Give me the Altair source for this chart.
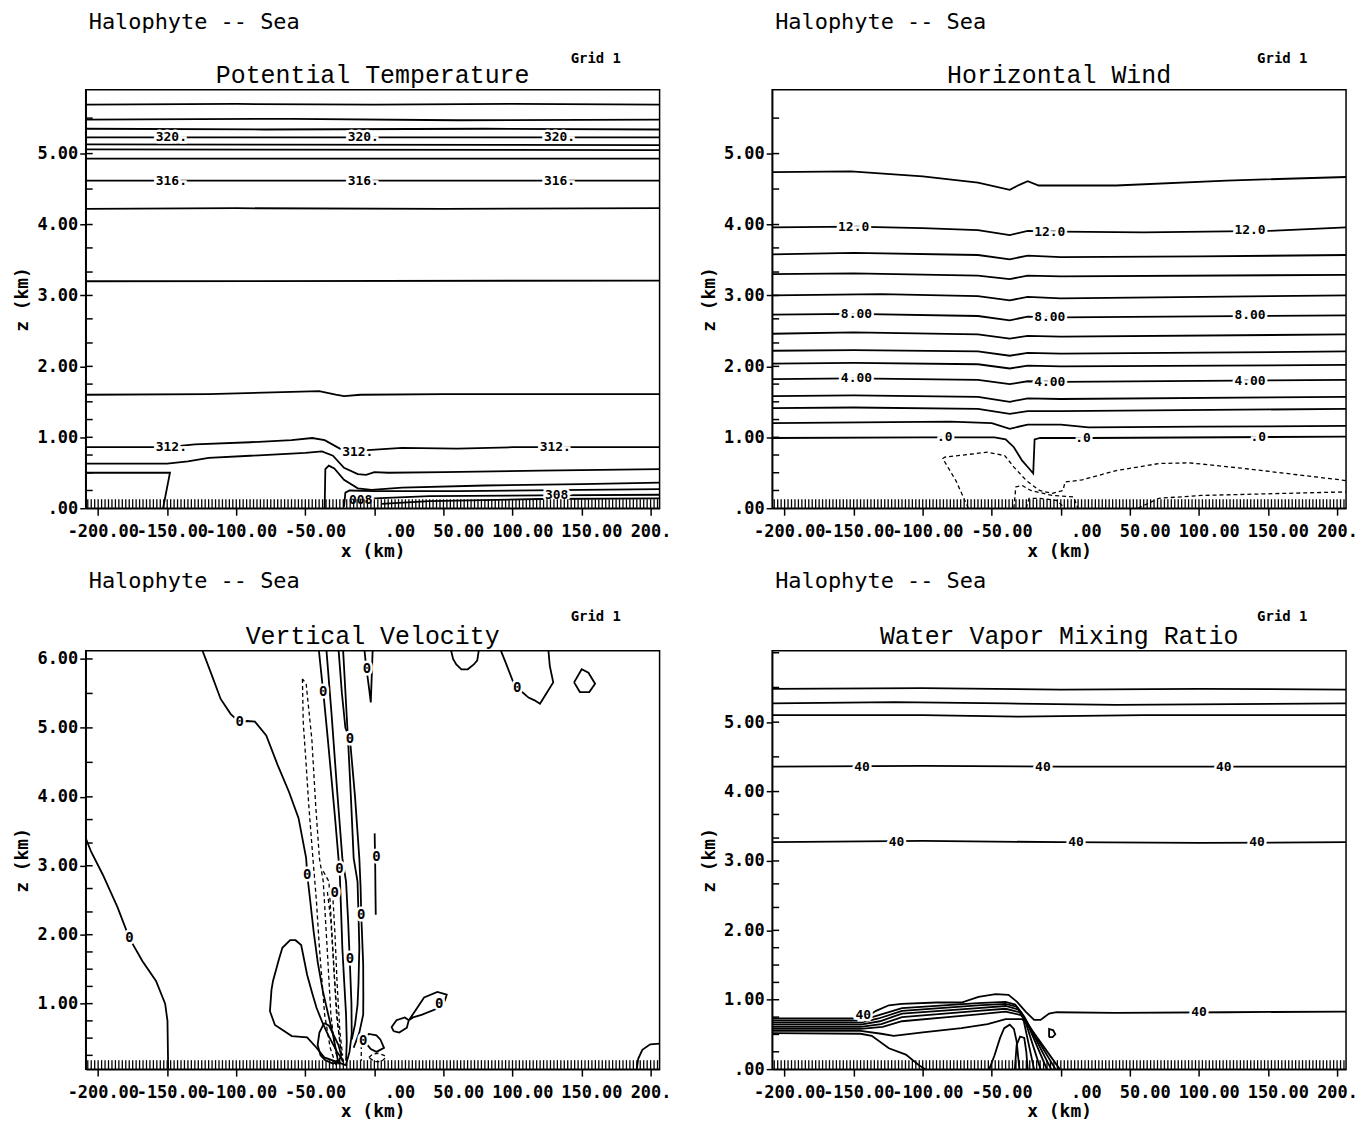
import altair as alt
import pandas as pd

# ---------------- layout constants ----------------
W, H = 576, 420
X_DOMAIN = [-209, 206.5]
Y_DOMAIN_PT = [0, 5.9]
Y_DOMAIN_UW = [0, 5.9]
Y_DOMAIN_VV = [0.05, 6.12]
Y_DOMAIN_QV = [0, 6.03]

HEADER = "Halophyte -- Sea"
GRID = "Grid 1"
TITLES = ["Potential Temperature", "Horizontal Wind", "Vertical Velocity", "Water Vapor Mixing Ratio"]

xtick_values = [-200, -150, -100, -50, 0, 50, 100, 150, 200]
xtick_labels = ["-200.00", "-150.00", "-100.00", "-50.00", ".00", "50.00", "100.00", "150.00", "200."]
ytick_values_05 = [0, 1, 2, 3, 4, 5]
ytick_labels_05 = [".00", "1.00", "2.00", "3.00", "4.00", "5.00"]
ytick_values_16 = [1, 2, 3, 4, 5, 6]
ytick_labels_16 = ["1.00", "2.00", "3.00", "4.00", "5.00", "6.00"]
minor_z = [0.25, 0.5, 0.75, 1.0, 1.25, 1.5, 1.75, 2.0, 2.33, 2.67, 3.0, 3.33, 3.67, 4.0, 4.5, 5.0, 5.5, 6.0]
hatch_x = [-207.5 + 2.5 * k for k in range(166)]  # model grid columns along the ground

# ---------------- Potential temperature contours ----------------
pt_323 = [(-209, 5.69), (-100, 5.70), (0, 5.69), (100, 5.70), (206.5, 5.69)]
pt_322 = [(-209, 5.48), (-60, 5.49), (60, 5.47), (206.5, 5.48)]
pt_321 = [(-209, 5.35), (-80, 5.34), (80, 5.35), (206.5, 5.34)]
pt_320 = [(-209, 5.23), (206.5, 5.23)]
pt_319 = [(-209, 5.13), (206.5, 5.12)]
pt_318 = [(-209, 5.06), (206.5, 5.05)]
pt_317 = [(-209, 4.93), (206.5, 4.93)]
pt_316 = [(-209, 4.62), (206.5, 4.62)]
pt_315 = [(-209, 4.22), (-100, 4.23), (50, 4.22), (206.5, 4.23)]
pt_314 = [(-209, 3.20), (206.5, 3.21)]
pt_313 = [(-209, 1.60), (-120, 1.61), (-60, 1.64), (-40, 1.65), (-28, 1.60), (-22, 1.58),
          (-10, 1.60), (50, 1.61), (206.5, 1.61)]
pt_312 = [(-209, 0.86), (-150, 0.86), (-130, 0.90), (-90, 0.93), (-60, 0.96), (-45, 0.99),
          (-36, 0.96), (-25, 0.84), (-15, 0.78), (-5, 0.82), (20, 0.85), (60, 0.84),
          (100, 0.86), (206.5, 0.86)]
pt_311 = [(-209, 0.63), (-150, 0.63), (-135, 0.66), (-120, 0.71), (-90, 0.74), (-50, 0.78),
          (-38, 0.80), (-30, 0.74), (-22, 0.57), (-12, 0.48), (-6, 0.47), (0, 0.51),
          (10, 0.50), (50, 0.51), (120, 0.53), (206.5, 0.55)]
pt_box = [(-209, 0.50), (-148, 0.50), (-153, 0.0)]
pt_310 = [(-36, 0.0), (-35.5, 0.55), (-33, 0.60), (-29, 0.56), (-22, 0.40), (-12, 0.28),
          (-2, 0.26), (20, 0.29), (80, 0.32), (150, 0.34), (206.5, 0.36)]
pt_309 = [(-22, 0.02), (-21, 0.22), (-18, 0.25), (0, 0.24), (60, 0.24), (150, 0.26), (206.5, 0.27)]
pt_308 = [(-12, 0.08), (0, 0.14), (40, 0.17), (120, 0.18), (206.5, 0.19)]
pt_307 = [(5, 0.06), (40, 0.10), (120, 0.13), (206.5, 0.14)]
pt_labels = [(-147, 5.23, "320."), (-8, 5.23, "320."), (134, 5.23, "320."),
             (-147, 4.62, "316."), (-8, 4.62, "316."), (134, 4.62, "316."),
             (-147, 0.86, "312."), (-12, 0.79, "312."), (131, 0.86, "312."),
             (132, 0.18, "308"), (-10, 0.11, "008")]

# ---------------- Horizontal wind contours ----------------
uw_13 = [(-209, 4.74), (-152, 4.75), (-100, 4.68), (-60, 4.59), (-37, 4.49), (-30, 4.56),
         (-24, 4.61), (-16, 4.55), (40, 4.55), (120, 4.62), (206.5, 4.67)]
uw_12 = [(-209, 3.96), (-150, 3.97), (-100, 3.95), (-60, 3.92), (-37, 3.85), (-24, 3.91),
         (0, 3.90), (60, 3.89), (150, 3.91), (206.5, 3.96)]
uw_11 = [(-209, 3.58), (-150, 3.60), (-60, 3.57), (-37, 3.51), (-24, 3.56), (0, 3.54), (100, 3.55), (206.5, 3.57)]
uw_10 = [(-209, 3.30), (-150, 3.31), (-60, 3.28), (-37, 3.23), (-24, 3.28), (0, 3.27), (206.5, 3.29)]
uw_9 = [(-209, 3.00), (-130, 3.02), (-60, 2.99), (-37, 2.93), (-24, 2.98), (0, 2.96), (206.5, 3.00)]
uw_8 = [(-209, 2.73), (-150, 2.74), (-60, 2.71), (-37, 2.65), (-24, 2.70), (0, 2.69), (206.5, 2.72)]
uw_7 = [(-209, 2.46), (-150, 2.48), (-60, 2.45), (-37, 2.39), (-24, 2.43), (0, 2.42), (206.5, 2.45)]
uw_6 = [(-209, 2.22), (-150, 2.23), (-60, 2.21), (-37, 2.15), (-24, 2.19), (0, 2.18), (206.5, 2.21)]
uw_5 = [(-209, 2.04), (-150, 2.05), (-60, 2.03), (-37, 1.97), (-24, 2.01), (0, 2.00), (206.5, 2.02)]
uw_4 = [(-209, 1.82), (-150, 1.83), (-60, 1.81), (-37, 1.75), (-24, 1.79), (0, 1.78), (206.5, 1.81)]
uw_3 = [(-209, 1.58), (-150, 1.59), (-60, 1.57), (-37, 1.50), (-24, 1.55), (0, 1.54), (206.5, 1.57)]
uw_2 = [(-209, 1.41), (-150, 1.42), (-60, 1.40), (-37, 1.33), (-24, 1.37), (0, 1.37), (206.5, 1.40)]
uw_1 = [(-209, 1.20), (-80, 1.22), (-50, 1.20), (-37, 1.12), (-24, 1.18), (0, 1.18), (20, 1.14),
        (100, 1.15), (206.5, 1.16)]
uw_0 = [(-209, 0.99), (-100, 1.00), (-48, 1.00), (-40, 0.97), (-34, 0.86), (-28, 0.67),
        (-23, 0.56), (-20, 0.49), (-19, 0.97), (-15, 0.99), (20, 0.99), (206.5, 1.01)]
uw_n1 = [(-67, 0.0), (-76, 0.39), (-85.5, 0.70), (-84, 0.72), (-53, 0.79), (-40.5, 0.74),
         (-34, 0.58), (-25, 0.39), (-15.5, 0.25), (-6.3, 0.21), (1.6, 0.25), (3, 0.37),
         (15.5, 0.40), (40, 0.53), (71, 0.63), (93, 0.64), (133, 0.56), (206.5, 0.39)]
uw_n2 = [(-34, 0.0), (-32.6, 0.30), (-28, 0.32), (-21.8, 0.25), (-6.3, 0.18), (9.2, 0.16), (12.4, 0.0)]
uw_n3 = [(-25, 0.0), (-23, 0.14), (-15.5, 0.14), (-3, 0.11), (3, 0.0)]
uw_n4 = [(56, 0.0), (71, 0.14), (102, 0.18), (164, 0.21), (206.5, 0.23)]
uw_labels = [(-150, 3.97, "12.0"), (-8, 3.90, "12.0"), (137, 3.92, "12.0"),
             (-148, 2.74, "8.00"), (-8, 2.69, "8.00"), (137, 2.72, "8.00"),
             (-148, 1.83, "4.00"), (-8, 1.78, "4.00"), (137, 1.80, "4.00"),
             (-84, 1.00, ".0"), (16, 0.99, ".0"), (143, 1.00, ".0")]

# ---------------- Vertical velocity contours ----------------
vv_a = [(-209, 3.40), (-205, 3.20), (-196.6, 2.87), (-186, 2.40), (-177.4, 1.95), (-168, 1.62),
        (-158.1, 1.33), (-151.5, 1.00), (-149.8, 0.75), (-149.3, 0.05)]
vv_b = [(-125, 6.15), (-118, 5.78), (-111.3, 5.42), (-104, 5.20), (-97.5, 5.08), (-92, 5.10),
        (-86.5, 5.09), (-78.3, 4.89), (-70, 4.46), (-61.8, 4.07), (-54.9, 3.69), (-49.4, 3.11),
        (-48.6, 2.87), (-46.5, 2.50), (-44, 2.05), (-41, 1.60), (-37.5, 1.20), (-33.5, 0.85),
        (-30, 0.55), (-27.5, 0.30), (-26, 0.12)]
vv_c = [(-19.7, 0.10), (-36.3, 0.22), (-41.9, 0.36), (-48.7, 0.51), (-59.8, 0.53), (-72, 0.69),
        (-75.6, 0.89), (-74.5, 1.20), (-73.4, 1.33), (-69, 1.65), (-66.6, 1.81), (-61, 1.92),
        (-57.1, 1.92), (-53, 1.85), (-50.5, 1.60), (-48.7, 1.42), (-45, 1.15), (-41.9, 0.94),
        (-37.5, 0.72), (-33.6, 0.55), (-27, 0.30), (-22.6, 0.17)]
vv_d1 = [(-40.3, 6.15), (-38.5, 5.8), (-37, 5.52), (-34, 4.9), (-31.5, 4.36), (-28.5, 3.7),
         (-26, 3.11), (-25.2, 2.96), (-24.2, 2.40), (-23.2, 1.81), (-21.8, 1.30), (-20.5, 0.84),
         (-20, 0.45), (-20.5, 0.17)]
vv_d2 = [(-34.8, 6.15), (-31, 5.2), (-27, 4.1), (-23.2, 3.11), (-20.5, 2.77), (-19, 2.2),
         (-17.7, 1.57), (-16.6, 1.00), (-16.4, 0.56), (-18, 0.30), (-20.5, 0.12)]
vv_d3 = [(-26, 6.15), (-23.5, 5.5), (-21, 5.0), (-17.7, 4.84), (-14, 4.0), (-10.9, 3.11),
         (-10, 2.7), (-9.5, 2.29), (-8.1, 1.57), (-8, 1.1), (-8.1, 0.84), (-10.9, 0.58), (-15, 0.36)]
vv_d4 = [(-22.7, 6.15), (-19, 4.8), (-17, 4.0), (-15, 3.11), (-12.2, 2.77), (-11.5, 2.3),
         (-10.9, 1.81), (-11.5, 1.3), (-12.2, 0.98), (-14, 0.70), (-16.4, 0.48)]
vv_e1 = [(-52.1, 5.71), (-51.5, 5.08), (-49.5, 4.50), (-47.5, 3.88), (-44.5, 3.11), (-42, 2.50),
         (-39.8, 1.81), (-36, 0.84), (-32, 0.36), (-28, 0.12), (-26, 0.15), (-28.7, 0.36),
         (-31.5, 0.84), (-34.2, 1.81), (-37, 2.77), (-39.8, 3.11), (-42.5, 3.88), (-45.3, 4.84),
         (-49.4, 5.64), (-52.1, 5.71)]
vv_e2 = [(-37, 2.92), (-32.9, 2.77), (-30.1, 1.81), (-27.4, 0.84), (-24.5, 0.36), (-23, 0.12)]
vv_e3 = [(-34, 2.62), (-31.5, 2.20), (-29, 1.40), (-26.5, 0.70), (-24, 0.30), (-22, 0.12)]
vv_e4 = [(-30.5, 2.70), (-28.5, 2.0), (-27, 1.3), (-25, 0.6), (-23, 0.25)]
vv_f = [(-7.3, 6.15), (-6, 5.9), (-4, 5.6), (-2.6, 5.37), (-2, 5.7), (-1.2, 6.15)]
vv_g = [(55.2, 6.15), (57, 6.0), (59.3, 5.92), (63, 5.85), (67.6, 5.85), (72, 5.92), (74.5, 5.98), (75.8, 6.15)]
vv_h = [(91, 6.15), (95, 5.95), (100.6, 5.66), (103.4, 5.58), (107, 5.52), (111.6, 5.44),
        (116, 5.40), (119.9, 5.35), (124.5, 5.50), (129.5, 5.66), (127, 5.9), (125.9, 6.15)]
vv_i = [(144.6, 5.66), (150.1, 5.85), (155, 5.80), (159.8, 5.64), (155.6, 5.52), (148.8, 5.52), (144.6, 5.66)]
vv_j = [(13.9, 0.60), (12.5, 0.66), (16, 0.76), (22, 0.80), (25, 0.76), (29, 0.88), (36, 1.09),
        (45.6, 1.17), (52.4, 1.13), (51, 1.04), (46.9, 0.94), (34.6, 0.84), (28, 0.80),
        (24.9, 0.76), (23.5, 0.65), (18, 0.58), (13.9, 0.60)]
vv_k = [(190, 0.05), (191, 0.20), (194, 0.33), (199.7, 0.41), (206.5, 0.42)]
vv_l = [(-8.1, 0.48), (-4, 0.56), (1.5, 0.54), (4.3, 0.48), (7, 0.36), (1.5, 0.30), (-2.6, 0.34),
        (-5.4, 0.41), (-8.1, 0.48)]
vv_l2 = [(-4, 0.22), (-1, 0.27), (2.9, 0.28), (7, 0.25), (8.4, 0.22), (5, 0.16), (0, 0.16), (-4, 0.22)]
vv_m = [(-36.3, 0.72), (-39.8, 0.58), (-41.1, 0.40), (-39, 0.25), (-35.6, 0.18), (-30, 0.13),
        (-26, 0.15), (-24, 0.25), (-26, 0.40), (-28.7, 0.51), (-32.9, 0.68), (-36.3, 0.72)]
vv_n = [(0.2, 3.47), (0.6, 3.0), (0.8, 2.6), (1, 2.29)]
vv_p = [(-9.5, 0.50), (-9.5, 0.17)]
vv_labels = [(-97.5, 5.08, "0"), (-37, 5.52, "0"), (-5.4, 5.85, "0"), (103.4, 5.58, "0"),
             (-17.7, 4.84, "0"), (-48.6, 2.87, "0"), (-25.2, 2.96, "0"), (-9.5, 2.29, "0"),
             (1.5, 3.13, "0"), (-177.4, 1.95, "0"), (-17.7, 1.65, "0"), (46.9, 1.0, "0"),
             (-8.1, 0.46, "0"), (-28.7, 2.6, "0")]

# ---------------- Water vapour contours ----------------
qv_a = [(-209, 5.48), (-100, 5.49), (0, 5.47), (100, 5.48), (206.5, 5.47)]
qv_b = [(-209, 5.27), (-120, 5.29), (-40, 5.27), (40, 5.25), (206.5, 5.27)]
qv_c = [(-209, 5.10), (-100, 5.10), (-30, 5.08), (60, 5.10), (206.5, 5.10)]
qv_d = [(-209, 4.36), (-100, 4.37), (0, 4.36), (206.5, 4.36)]
qv_e = [(-209, 3.27), (-100, 3.29), (0, 3.27), (100, 3.26), (206.5, 3.27)]
qv_1 = [(-209, 0.73), (-150, 0.73), (-140, 0.76), (-133.8, 0.84), (-124.5, 0.92), (-115.3, 0.94),
        (-90, 0.96), (-71.9, 0.96), (-59.6, 1.04), (-47.2, 1.08), (-37.9, 1.07), (-31.7, 0.97),
        (-25.5, 0.83), (-19.4, 0.71), (-14.7, 0.71), (-8.5, 0.80), (-3, 0.82), (39.4, 0.81),
        (120, 0.82), (206.5, 0.83)]
qv_r1 = [(-209, 0.70), (-145, 0.70), (-133, 0.77), (-115, 0.88), (-60, 0.95), (-40, 0.97),
         (-33, 0.93), (-28, 0.80), (-19.4, 0.0)]
qv_r2 = [(-209, 0.67), (-145, 0.67), (-132, 0.73), (-115, 0.84), (-60, 0.92), (-40, 0.94),
         (-32, 0.90), (-27, 0.77), (-14.7, 0.0)]
qv_r3 = [(-209, 0.64), (-145, 0.64), (-131, 0.69), (-115, 0.80), (-60, 0.88), (-40, 0.91),
         (-31, 0.86), (-26, 0.74), (-10.1, 0.0)]
qv_r4 = [(-209, 0.61), (-145, 0.61), (-130, 0.65), (-115, 0.75), (-60, 0.84), (-40, 0.87),
         (-30, 0.82), (-25, 0.70), (-7, 0.0)]
qv_r5 = [(-209, 0.58), (-145, 0.58), (-129, 0.61), (-115, 0.69), (-60, 0.79), (-40, 0.83),
         (-29, 0.78), (-24, 0.66), (-3.9, 0.0)]
qv_r6 = [(-209, 0.55), (-145, 0.55), (-130, 0.51), (-121, 0.48), (-100, 0.53), (-72, 0.59),
         (-53, 0.65), (-40, 0.72), (-28, 0.72), (-23, 0.62), (-0.8, 0.0)]
qv_g = [(-209, 0.52), (-145, 0.51), (-136.9, 0.48), (-124.5, 0.30), (-112.2, 0.21), (-102.9, 0.06), (-98.2, 0.0)]
qv_h1 = [(-51.8, 0.0), (-48, 0.20), (-44, 0.45), (-41, 0.59), (-37, 0.64), (-34, 0.58), (-32, 0.40), (-30, 0.0)]
qv_h2 = [(-33.3, 0.0), (-32, 0.35), (-29.5, 0.47), (-26.5, 0.45), (-25, 0.25), (-24, 0.0)]
qv_loop = [(-8.5, 0.46), (-8.5, 0.58), (-5.5, 0.56), (-4, 0.50), (-6, 0.46), (-8.5, 0.46)]
qv_labels = [(-144, 4.36, "40"), (-13, 4.36, "40"), (118, 4.36, "40"),
             (-119, 3.27, "40"), (11, 3.27, "40"), (142, 3.27, "40"),
             (-143, 0.78, "40"), (100, 0.82, "40")]

# ---------------- helpers ----------------
MONO = "DejaVu Sans Mono"
SERIF_MONO = "Liberation Mono"


def label_expr(values, labels):
    expr = "''"
    for v, lab in reversed(list(zip(values, labels))):
        expr = f"datum.value == {v} ? '{lab}' : ({expr})"
    return expr


def make_df(lines):
    rows = []
    for cid, (pts, dashed) in enumerate(lines):
        for i, (x, z) in enumerate(pts):
            rows.append({"id": cid, "i": i, "x": x, "z": z, "dash": 1 if dashed else 0})
    return pd.DataFrame(rows)


def fixed_text(t, x, y, **kw):
    return alt.Chart(pd.DataFrame({"t": [t]})).mark_text(**kw).encode(
        x=alt.value(x), y=alt.value(y), text="t:N")


def panel(lines, labels, ydom, yvals, ylabs, title, label_size=13, header_y=-68, grid_y=-31, title_y=-15):
    xs = alt.Scale(domain=X_DOMAIN, nice=False, zero=False)
    ys = alt.Scale(domain=ydom, nice=False, zero=False)
    xaxis = alt.Axis(values=xtick_values, labels=False,
                     title="x (km)", titleX=W / 2, titleY=43, titleAlign="center",
                     titleBaseline="middle", tickSize=7)
    yaxis = alt.Axis(values=yvals, labelExpr=label_expr(yvals, ylabs),
                     title="z (km)", titleX=-63, titleY=H / 2, titleAngle=270,
                     titleAlign="center", titleBaseline="middle",
                     labelPadding=2, labelOverlap=False, labelFlush=False, tickSize=6)
    X = alt.X("x:Q", scale=xs, axis=xaxis)
    Y = alt.Y("z:Q", scale=ys, axis=yaxis)
    df = make_df(lines)
    solid = alt.Chart(df).transform_filter("datum.dash == 0").mark_line(
        color="black", strokeWidth=1.8, clip=True).encode(x=X, y=Y, detail="id:N", order="i:Q")
    dashed = alt.Chart(df).transform_filter("datum.dash == 1").mark_line(
        color="black", strokeWidth=1.3, strokeDash=[4, 3], clip=True).encode(
        x=X, y=Y, detail="id:N", order="i:Q")
    ldf = pd.DataFrame(labels, columns=["x", "z", "t"])
    halo = alt.Chart(ldf).mark_text(font=MONO, fontSize=label_size, fontWeight="bold",
                                    stroke="white", strokeWidth=5, fill="white").encode(
        x=X, y=Y, text="t:N")
    txt = alt.Chart(ldf).mark_text(font=MONO, fontSize=label_size, fontWeight="bold",
                                   color="black").encode(x=X, y=Y, text="t:N")
    # fixed-width x tick label fields (right end ~41 px right of each tick, last one clipped)
    xl = pd.DataFrame({"x": xtick_values, "t": xtick_labels})
    xlab_main = alt.Chart(xl).transform_filter("datum.x < 200").mark_text(
        font=MONO, fontSize=17, fontWeight="bold", align="right", baseline="middle",
        dx=41, color="black").encode(x=X, y=alt.value(H + 24), text="t:N")
    xlab_last = alt.Chart(xl).transform_filter("datum.x >= 200").mark_text(
        font=MONO, fontSize=17, fontWeight="bold", align="left", baseline="middle",
        dx=-20, color="black").encode(x=X, y=alt.value(H + 24), text="t:N")
    hatch = alt.Chart(pd.DataFrame({"x": hatch_x})).mark_rule(color="black", strokeWidth=1.3).encode(
        x=X, y=alt.value(H), y2=alt.value(H - 9))
    mz = [z for z in minor_z if ydom[0] < z < ydom[1]]
    minor = alt.Chart(pd.DataFrame({"z": mz})).mark_rule(color="black", strokeWidth=1.5).encode(
        y=Y, x=alt.value(0), x2=alt.value(7))
    header = fixed_text(HEADER, 3, header_y, font=MONO, fontSize=22, align="left", baseline="middle", color="black")
    grid = fixed_text(GRID, 512, grid_y, font=MONO, fontSize=14, fontWeight="bold", align="center",
                      baseline="middle", color="black")
    ttl = fixed_text(title, W / 2, title_y, font=SERIF_MONO, fontSize=25, align="center",
                     baseline="middle", color="black")
    return alt.layer(solid, dashed, halo, txt, xlab_main, xlab_last, hatch, minor,
                     header, grid, ttl).properties(width=W, height=H)


pt_lines = [(c, False) for c in [pt_323, pt_322, pt_321, pt_320, pt_319, pt_318, pt_317, pt_316,
                                  pt_315, pt_314, pt_313, pt_312, pt_311, pt_box, pt_310, pt_309,
                                  pt_308, pt_307]]
uw_lines = [(c, False) for c in [uw_13, uw_12, uw_11, uw_10, uw_9, uw_8, uw_7, uw_6, uw_5, uw_4,
                                  uw_3, uw_2, uw_1, uw_0]] + \
           [(c, True) for c in [uw_n1, uw_n2, uw_n3, uw_n4]]
vv_lines = [(c, False) for c in [vv_a, vv_b, vv_c, vv_d1, vv_d2, vv_d3, vv_d4, vv_f, vv_g, vv_h,
                                  vv_i, vv_j, vv_k, vv_l, vv_m, vv_n]] + \
           [(c, True) for c in [vv_e1, vv_e2, vv_e3, vv_e4, vv_l2, vv_p]]
qv_lines = [(c, False) for c in [qv_a, qv_b, qv_c, qv_d, qv_e, qv_1, qv_r1, qv_r2, qv_r3, qv_r4,
                                  qv_r5, qv_r6, qv_g, qv_h1, qv_h2, qv_loop]]

p1 = panel(pt_lines, pt_labels, Y_DOMAIN_PT, ytick_values_05, ytick_labels_05, TITLES[0])
p2 = panel(uw_lines, uw_labels, Y_DOMAIN_UW, ytick_values_05, ytick_labels_05, TITLES[1])
p3 = panel(vv_lines, vv_labels, Y_DOMAIN_VV, ytick_values_16, ytick_labels_16, TITLES[2],
           label_size=14, header_y=-70, grid_y=-34, title_y=-15)
p4 = panel(qv_lines, qv_labels, Y_DOMAIN_QV, ytick_values_05, ytick_labels_05, TITLES[3],
           header_y=-70, grid_y=-34, title_y=-15)

chart = alt.concat(p1, p2, p3, p4, columns=2, spacing={"row": 143, "column": 113},
                   bounds="flush").properties(
    padding={"left": 5, "top": 0, "right": 0, "bottom": 0}, background="white"
).configure_view(stroke="black", strokeWidth=1.5).configure_axis(
    grid=False, domainColor="black", domainWidth=1.5, tickColor="black", tickWidth=1.5,
    labelColor="black", titleColor="black", labelFont=MONO, labelFontSize=17,
    labelFontWeight="bold", titleFont=MONO, titleFontSize=18, titleFontWeight="bold"
)

chart.save("out.html", embed_options={"renderer": "svg", "actions": False})
